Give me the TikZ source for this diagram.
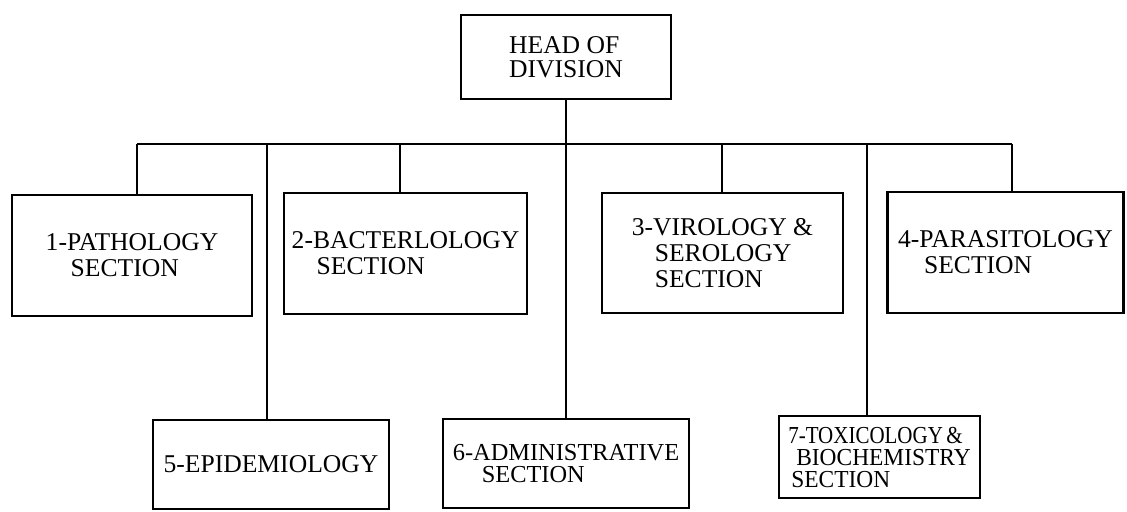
\documentclass[tikz,border=0pt]{standalone}
\usepackage{fontspec}
\setmainfont{Liberation Serif}
\begin{document}
\begin{tikzpicture}[x=0.5pt,y=-0.5pt,
  box/.style={draw, line width=1.2pt, rectangle, inner sep=0pt, align=left,
    font=\fontsize{12.8}{13}\selectfont},
  tightbox/.style={box, font=\fontsize{12.2}{11}\selectfont},
  conn/.style={line width=0.9pt}]
\useasboundingbox (0,0) rectangle (1127,511);

% boxes
\node[box, minimum width=105pt, minimum height=42pt, font=\fontsize{12.8}{12}\selectfont] (head) at (566,57) {HEAD OF\\DIVISION};
\node[box, minimum width=120pt, minimum height=60.5pt] (b1) at (132,255.5) {1-PATHOLOGY\\\hspace*{12.5pt}SECTION};
\node[box, minimum width=121.5pt, minimum height=60.5pt] (b2) at (405.5,253.5) {2-BACTERLOLOGY\\\hspace*{12.5pt}SECTION};
\node[box, minimum width=120.5pt, minimum height=60pt] (b3) at (722.5,253) {3-VIROLOGY \&\\\hspace*{11.5pt}SEROLOGY\\\hspace*{11.5pt}SECTION};
\node[box, minimum width=118pt, minimum height=60.5pt] (b4) at (1005.5,252.5) {4-PARASITOLOGY\\\hspace*{13pt}SECTION};
\node[box, minimum width=118pt, minimum height=44.5pt] (b5) at (271,464.5) {5-EPIDEMIOLOGY};
\node[tightbox, minimum width=123pt, minimum height=44.5pt] (b6) at (566,463.5) {6-ADMINISTRATIVE\\\hspace*{14.5pt}SECTION};
\node[tightbox, minimum width=100.5pt, minimum height=41pt] (b7) at (879.5,457) {\scalebox{0.86}[1]{7-TOXICOLOGY\,\&}\\\hspace*{4pt}\scalebox{0.96}[1]{BIOCHEMISTRY}\\\hspace*{1.5pt}\scalebox{0.96}[1]{SECTION}};

% bus junctions
\coordinate (j1) at (137,144);
\coordinate (j5) at (267,144);
\coordinate (j2) at (400,144);
\coordinate (j6) at (566,144);
\coordinate (j3) at (722,144);
\coordinate (j7) at (867,144);
\coordinate (j4) at (1012,144);

% connectors
\draw[conn] (j1) -- (j4);
\draw[conn] (head.south) -- (b6.north);
\draw[conn] (j1) -- (j1 |- b1.north);
\draw[conn] (j2) -- (j2 |- b2.north);
\draw[conn] (j3) -- (j3 |- b3.north);
\draw[conn] (j4) -- (j4 |- b4.north);
\draw[conn] (j5) -- (j5 |- b5.north);
\draw[conn] (j7) -- (j7 |- b7.north);
\end{tikzpicture}
\end{document}
